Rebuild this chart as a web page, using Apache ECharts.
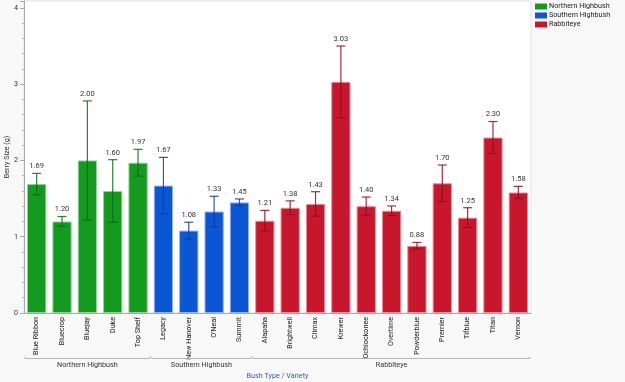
<!DOCTYPE html>
<html>
<head>
<meta charset="utf-8">
<script src="https://cdn.jsdelivr.net/npm/echarts@6/dist/echarts.min.js"></script>
<style>
html,body{margin:0;padding:0;background:#f8f8f8;}
#chart{width:625px;height:382px;}
</style>
</head>
<body>
<div id="chart"></div>
<script>
const categories = ['Blue Ribbon','Bluecrop','Bluejay','Duke','Top Shelf','Legacy','New Hanover',"O'Neal",'Summit','Alapaha','Brightwell','Climax','Krewer','Ochlockonee','Overtime','Powderblue','Premier','Tifblue','Titan','Vernon'];
const groupNames = ['Northern Highbush','Southern Highbush','Rabbiteye'];
const groupOfCategory = [0,0,0,0,0,1,1,1,1,2,2,2,2,2,2,2,2,2,2,2];
const meanValues = [1.69,1.20,2.00,1.60,1.97,1.67,1.08,1.33,1.45,1.21,1.38,1.43,3.03,1.40,1.34,0.88,1.70,1.25,2.30,1.58];
const errorHalf = [0.14,0.065,0.78,0.41,0.175,0.37,0.11,0.20,0.045,0.135,0.09,0.16,0.47,0.12,0.063,0.045,0.24,0.13,0.21,0.08];
const yTicks = [0,1,2,3,4];

const barColors = ['#139a1f','#0a56d4','#c8172c'];
const barEdge = ['#8fd396','#8fb2ee','#e98d98'];
const errColors = ['#0b6a14','#0a3c98','#8a0f1f'];
const FONT = 'Roboto';
const FS = 7.2;

const chart = echarts.init(document.getElementById('chart'), null, {renderer:'canvas'});

const barSeries = groupNames.map((g, gi) => ({
  name: g,
  type: 'bar',
  stack: 'all',
  barWidth: '76%',
  itemStyle: {color: barColors[gi], borderColor: barEdge[gi], borderWidth: 1},
  data: meanValues.map((v, i) => groupOfCategory[i] === gi ? v : '-'),
  z: 2
}));

const errData = meanValues.map((v, i) => [i, v - errorHalf[i], v + errorHalf[i], v, groupOfCategory[i]]);

const errSeries = {
  type: 'custom',
  z: 5,
  clip: false,
  silent: true,
  data: errData,
  encode: {x: 0, y: [1, 2]},
  renderItem: function (params, api) {
    const i = api.value(0);
    const lo = api.coord([i, api.value(1)]);
    const hi = api.coord([i, api.value(2)]);
    const g = api.value(4);
    const col = errColors[g];
    const hw = 4.5;
    const st = {stroke: col, lineWidth: 1.2, opacity: 0.85};
    return {
      type: 'group',
      children: [
        {type: 'line', shape: {x1: lo[0], y1: lo[1], x2: hi[0], y2: hi[1]}, style: st},
        {type: 'line', shape: {x1: hi[0]-hw, y1: hi[1], x2: hi[0]+hw, y2: hi[1]}, style: st},
        {type: 'line', shape: {x1: lo[0]-hw, y1: lo[1], x2: lo[0]+hw, y2: lo[1]}, style: st},
        {type: 'text', style: {x: hi[0], y: hi[1]-3, text: api.value(3).toFixed(2), textAlign: 'center', textVerticalAlign: 'bottom', fill: '#333', font: (FS+0.3) + 'px "' + FONT + '"'}}
      ]
    };
  }
};

const groupSpans = groupNames.map((g, gi) => {
  const idx = groupOfCategory.map((x, i) => x === gi ? i : -1).filter(x => x >= 0);
  return [idx[0], idx[idx.length - 1], gi];
});

const groupSeries = {
  type: 'custom',
  clip: false,
  silent: true,
  data: groupSpans,
  encode: {x: 0},
  renderItem: function (params, api) {
    const s = api.value(0), e = api.value(1), gi = api.value(2);
    const band = api.size([1, 0])[0];
    const x1 = api.coord([s, 0])[0] - band/2 + 1;
    const x2 = api.coord([e, 0])[0] + band/2 - 1;
    const base = params.coordSys.y + params.coordSys.height;
    const y = base + 45.5;
    const st = {stroke: '#b5b5b5', lineWidth: 1};
    return {
      type: 'group',
      children: [
        {type: 'line', shape: {x1: x1, y1: y, x2: x2, y2: y}, style: st},
        {type: 'line', shape: {x1: x1, y1: y, x2: x1, y2: y-2}, style: st},
        {type: 'line', shape: {x1: x2, y1: y, x2: x2, y2: y-2}, style: st},
        {type: 'text', style: {x: (x1+x2)/2, y: y+6.5, text: groupNames[gi], textAlign: 'center', textVerticalAlign: 'middle', fill: '#333', font: FS + 'px "' + FONT + '"'}}
      ]
    };
  }
};

chart.setOption({
  backgroundColor: '#f8f8f8',
  animation: false,
  textStyle: {fontFamily: FONT},
  grid: {left: 24, right: 94, top: 1, bottom: 69, show: true, backgroundColor: '#ffffff', borderColor: '#e2e2e2', borderWidth: 1, containLabel: false, outerBoundsMode: 'none'},
  legend: {
    orient: 'vertical', left: 535, top: 2, padding: 0, itemWidth: 12, itemHeight: 6, itemGap: 0,
    icon: 'rect',
    itemStyle: {borderWidth: 0},
    data: groupNames,
    textStyle: {fontSize: FS, lineHeight: 9, color: '#222', fontFamily: FONT, padding: [0,0,0,-3]}
  },
  xAxis: {
    type: 'category',
    data: categories,
    name: 'Bush Type / Variety',
    nameLocation: 'middle',
    nameGap: 60,
    nameMoveOverlap: false,
    nameTextStyle: {color: '#2a5fa5', fontSize: FS, fontFamily: FONT},
    axisLine: {lineStyle: {color: '#a8a8a8'}},
    axisTick: {show: false},
    axisLabel: {rotate: 90, fontSize: FS, color: '#222', margin: 4, interval: 0, fontFamily: FONT}
  },
  yAxis: {
    type: 'value',
    min: yTicks[0],
    max: 4.09,
    interval: 1,
    name: 'Berry Size (g)',
    nameLocation: 'middle',
    nameGap: 13,
    nameMoveOverlap: false,
    nameTextStyle: {color: '#333', fontSize: FS, fontFamily: FONT},
    axisLine: {show: true, lineStyle: {color: '#a8a8a8'}},
    axisTick: {show: true, length: 4, lineStyle: {color: '#a8a8a8'}},
    minorTick: {show: true, splitNumber: 5, length: 2, lineStyle: {color: '#b8b8b8'}},
    splitLine: {show: false},
    axisLabel: {fontSize: FS, color: '#333', margin: 6, showMaxLabel: false, fontFamily: FONT,
      formatter: v => yTicks.indexOf(v) >= 0 ? String(v) : ''}
  },
  series: [...barSeries, errSeries, groupSeries]
});
</script>
</body>
</html>
